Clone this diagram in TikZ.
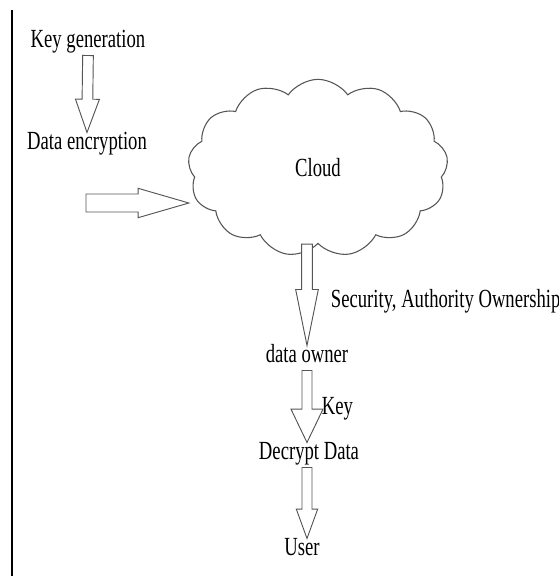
\documentclass[tikz,border=0pt]{standalone}
\usepackage{fontspec}
\setmainfont{Liberation Serif}
\usetikzlibrary{calc,shapes.symbols}

\definecolor{linegray}{HTML}{555555}

\tikzset{
  flowtext/.style={font=\fontsize{14}{16}\selectfont, yscale=1.4, inner sep=2pt,
    text height=0.68em, text depth=0.22em},
  blockline/.style={draw=linegray, line width=0.7pt, fill=white, line join=miter},
}

% hollow block arrow: shaft half width, head half width, head length, from, to
\newcommand{\hollowarrow}[5]{%
  \coordinate (ha-s) at (#4);
  \coordinate (ha-e) at (#5);
  \coordinate (ha-n) at ($(ha-e)!#3!(ha-s)$);
  \draw[blockline] ($(ha-s)!#1!90:(ha-e)$) -- ($(ha-n)!#1!90:(ha-e)$)
    -- ($(ha-n)!#2!90:(ha-e)$) -- (ha-e) -- ($(ha-n)!#2!-90:(ha-e)$)
    -- ($(ha-n)!#1!-90:(ha-e)$) -- ($(ha-s)!#1!-90:(ha-e)$) -- cycle;
}

\begin{document}
\begin{tikzpicture}[x=0.75pt, y=-0.75pt]
        \clip (0,0) rectangle (559,576);
        \fill[white] (0,0) rectangle (559,576);

        % left rule
        \draw[line width=2pt] (12,10) -- (12,576);

        % Nodes
        \node[flowtext] (keygen) at (88,43) {Key generation};
        \node[flowtext] (dataenc) at (87,145) {Data encryption};
        \coordinate (feed) at (86,203);
        \node[draw=linegray, line width=0.8pt, cloud, cloud puffs=13, cloud puff arc=110,
          cloud ignores aspect, minimum width=195pt, minimum height=133pt,
          font=\fontsize{14}{16}\selectfont] (cloud) at (318,168) {\scalebox{1}[1.4]{Cloud}};
        \node[flowtext, anchor=west] (rights) at (328,303) {Security, Authority Ownership};
        \node[flowtext] (owner) at (307,358) {data owner};
        \node[flowtext, anchor=west] (key) at (319,410) {Key};
        \node[flowtext] (decrypt) at (309,455) {Decrypt Data};
        \node[flowtext] (user) at (302,551) {User};

        % Arrows
        \hollowarrow{4pt}{9pt}{25pt}{keygen.south}{dataenc.north}
        \hollowarrow{6.75pt}{11pt}{38pt}{feed}{feed -| cloud.west}
        \hollowarrow{4pt}{8.5pt}{42pt}{cloud.south -| owner}{owner.north}
        \hollowarrow{3.75pt}{12pt}{25pt}{owner.south}{decrypt.north -| owner}
        \hollowarrow{3.75pt}{8pt}{22pt}{decrypt.south -| owner}{user.north -| owner}
    \end{tikzpicture}
\end{document}
